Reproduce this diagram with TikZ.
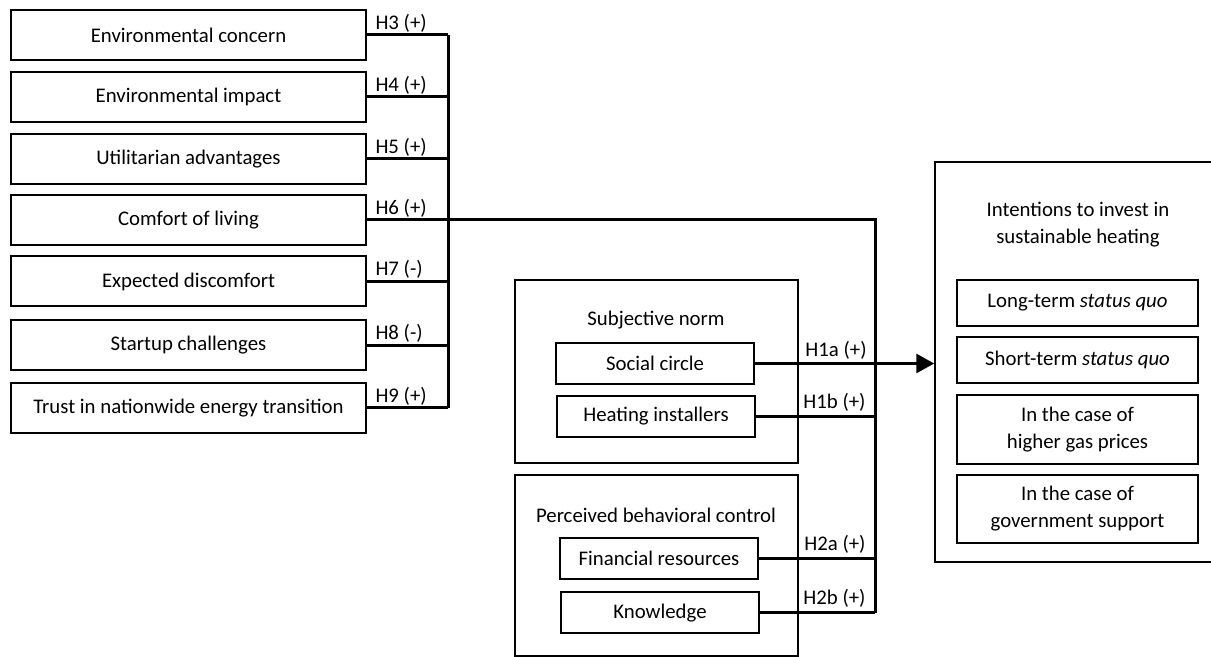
\documentclass[tikz,border=0pt]{standalone}
\usepackage{fontspec}
\setmainfont{Carlito}
\usepackage{tikz}
\usetikzlibrary{arrows.meta}

\tikzset{
  factor/.style={draw, line width=1pt, minimum width=177.5pt, minimum height=25pt, inner sep=0pt},
  item/.style={draw, line width=1pt, minimum width=99pt, minimum height=20.5pt, inner sep=0pt},
  outcome/.style={draw, line width=1pt, minimum width=120.5pt, inner sep=0pt, align=center},
  group/.style={draw, line width=0.75pt, inner sep=0pt},
  link/.style={line width=1.5pt},
  hyp/.style={inner sep=2pt}
}

\begin{document}
\begin{tikzpicture}[x=0.5pt, y=-0.5pt, font=\fontsize{10.4}{13.5}\selectfont]
    \useasboundingbox (0, 0) rectangle (1211, 657);
    \coordinate (lbus) at (448, 0);
    \coordinate (rbus) at (875, 0);

    % left hand factors
    \node[factor] (concern) at (188.5, 35) {Environmental concern};
    \node[factor] (impact) at (188.5, 97) {Environmental impact};
    \node[factor] (util) at (188.5, 159) {Utilitarian advantages};
    \node[factor] (comfort) at (188.5, 220) {Comfort of living};
    \node[factor] (discomf) at (188.5, 281.5) {Expected discomfort};
    \node[factor] (startup) at (188.5, 345.5) {Startup challenges};
    \node[factor] (trust) at (188.5, 408) {Trust in nationwide energy transition};

    \foreach \f/\h in {concern/H3 (+), impact/H4 (+), util/H5 (+), comfort/H6 (+), discomf/H7 (-), startup/H8 (-), trust/H9 (+)}
      \draw[link] (\f.east) node[hyp, above right, xshift=1.5pt, yshift=-1.2pt] {\h} -- (\f.east -| lbus);
    \draw[link] (concern.east -| lbus) -- (trust.east -| lbus);

    % subjective norm
    \node[group, minimum width=141.5pt, minimum height=91.5pt] (norm) at (656.5, 371.5) {};
    \node (normtitle) at (656, 320) {Subjective norm};
    \node[item] (social) at (655, 363.5) {Social circle};
    \node[item] (install) at (656, 416.5) {Heating installers};

    % perceived behavioral control
    \node[group, minimum width=141.5pt, minimum height=90.5pt] (pbc) at (656.5, 565.5) {};
    \node (pbctitle) at (656, 515) {Perceived behavioral control};
    \node[item] (finance) at (659, 558.5) {Financial resources};
    \node[item] (knowledge) at (660, 613) {Knowledge};

    % intentions
    \node[group, minimum width=145pt, minimum height=200pt] (intent) at (1080, 362) {};
    \node[align=center] (intitle) at (1078, 224.5) {Intentions to invest in\\sustainable heating};
    \node[outcome, minimum height=23pt] (longterm) at (1077.5, 303) {Long-term \textit{status quo}};
    \node[outcome, minimum height=23pt] (shortterm) at (1077.5, 360) {Short-term \textit{status quo}};
    \node[outcome, minimum height=34.5pt] (gas) at (1077.5, 429.5) {In the case of\\higher gas prices};
    \node[outcome, minimum height=34pt] (govt) at (1077.5, 509) {In the case of\\government support};

    % connectors
    \draw[link] (comfort.east -| lbus) -- (comfort.east -| rbus) -- (knowledge.east -| rbus);
    \draw[link, -{Triangle[length=9pt, width=9.5pt]}] (social.east) -- (social.east -| intent.west);
    \path (social.east -| rbus) node[hyp, above left, xshift=-2pt] {H1a (+)};
    \draw[link] (install.east) -- (install.east -| rbus) node[hyp, above left, xshift=-2pt] {H1b (+)};
    \draw[link] (finance.east) -- (finance.east -| rbus) node[hyp, above left, xshift=-2pt] {H2a (+)};
    \draw[link] (knowledge.east) -- (knowledge.east -| rbus) node[hyp, above left, xshift=-2pt] {H2b (+)};
\end{tikzpicture}
\end{document}
